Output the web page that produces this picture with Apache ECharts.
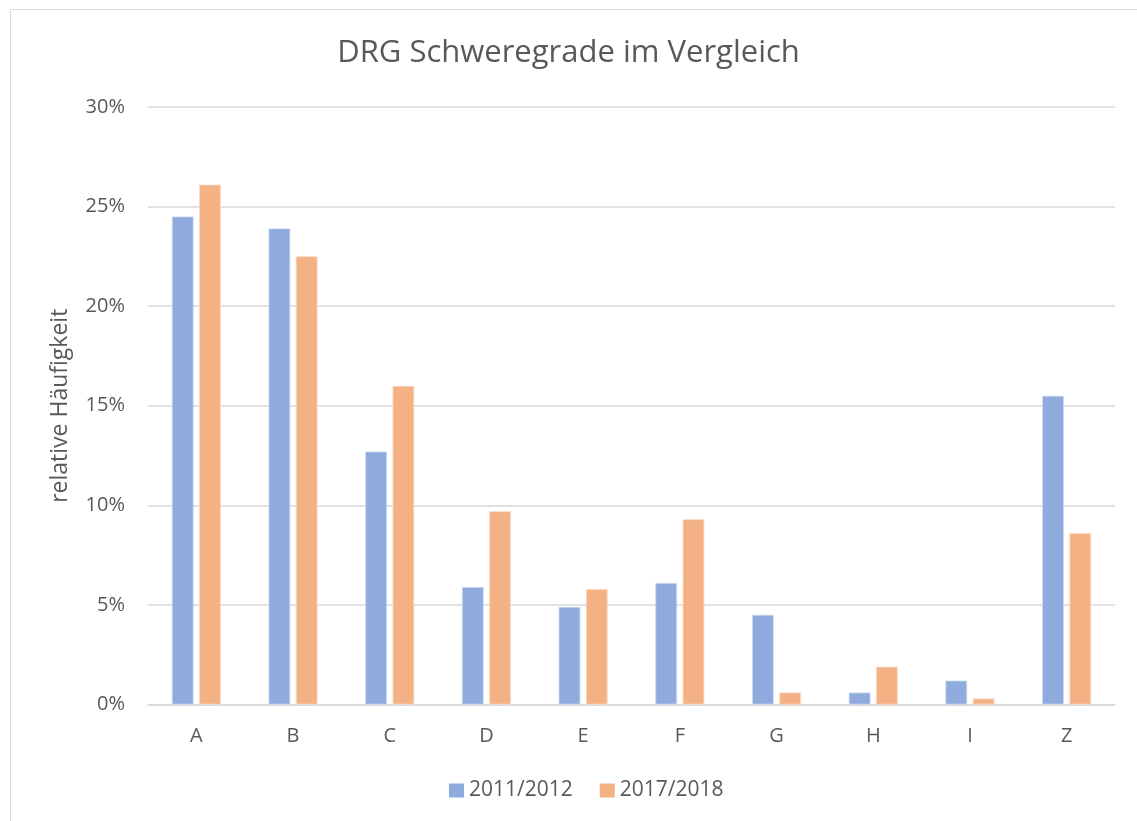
<!DOCTYPE html>
<html>
<head>
<meta charset="utf-8">
<script src="https://cdn.jsdelivr.net/npm/echarts@6/dist/echarts.min.js"></script>
<style>
  html, body { margin: 0; padding: 0; background: #ffffff; }
  #chart { width: 1137px; height: 821px; }
</style>
</head>
<body>
<div id="chart"></div>
<script>
// DRG severity grades, relative frequency in percent
const categories = ['A', 'B', 'C', 'D', 'E', 'F', 'G', 'H', 'I', 'Z'];
const seriesNames = ['2011/2012', '2017/2018'];
const values2011 = [24.5, 23.9, 12.7, 5.9, 4.9, 6.1, 4.5, 0.6, 1.2, 15.5];
const values2017 = [26.1, 22.5, 16.0, 9.7, 5.8, 9.3, 0.6, 1.9, 0.3, 8.6];

const textColor = '#595959';
const fontFamily = '"Open Sans", "Noto Sans", sans-serif';

const chart = echarts.init(document.getElementById('chart'), null, { renderer: 'canvas' });

chart.setOption({
  backgroundColor: '#ffffff',
  animation: false,
  textStyle: { fontFamily: fontFamily, color: textColor },
  graphic: [{
    type: 'rect',
    shape: { x: 10.5, y: 9.5, width: 1140, height: 830 },
    style: { fill: 'none', stroke: '#d9d9d9', lineWidth: 1 },
    silent: true,
    z: -1
  }],
  title: {
    text: 'DRG Schweregrade im Vergleich',
    left: 'center',
    top: 33,
    textStyle: { fontFamily: fontFamily, fontSize: 31, fontWeight: 'normal', color: textColor }
  },
  legend: {
    data: seriesNames,
    left: 444,
    top: 775,
    itemWidth: 15,
    itemHeight: 14,
    itemGap: 27,
    icon: 'rect',
    itemStyle: { borderWidth: 0 },
    textStyle: { fontFamily: fontFamily, fontSize: 21, color: textColor }
  },
  grid: { left: 148, right: 22, top: 107, bottom: 116.5, containLabel: false },
  xAxis: {
    type: 'category',
    data: categories,
    axisTick: { show: false },
    axisLine: { lineStyle: { color: '#d9d9d9', width: 1.5 } },
    axisLabel: { fontFamily: fontFamily, fontSize: 20, color: textColor, margin: 22 }
  },
  yAxis: {
    type: 'value',
    min: 0,
    max: 30,
    interval: 5,
    name: 'relative Häufigkeit',
    nameLocation: 'middle',
    nameGap: 76,
    nameRotate: 90,
    nameTextStyle: { fontFamily: fontFamily, fontSize: 23, color: textColor },
    axisLine: { show: false },
    axisTick: { show: false },
    splitLine: { lineStyle: { color: '#d9d9d9', width: 1.5 } },
    axisLabel: { fontFamily: fontFamily, fontSize: 20, color: textColor, margin: 23, formatter: '{value}%' }
  },
  series: [
    {
      name: seriesNames[0],
      type: 'bar',
      data: values2011,
      barWidth: '22.4%',
      barGap: '26%',
      itemStyle: { color: '#8faadc', borderColor: '#c9d6f0', borderWidth: 0.8 }
    },
    {
      name: seriesNames[1],
      type: 'bar',
      data: values2017,
      barWidth: '22.4%',
      barGap: '26%',
      itemStyle: { color: '#f4b183', borderColor: '#fad8c0', borderWidth: 0.8 }
    }
  ]
});
</script>
</body>
</html>
